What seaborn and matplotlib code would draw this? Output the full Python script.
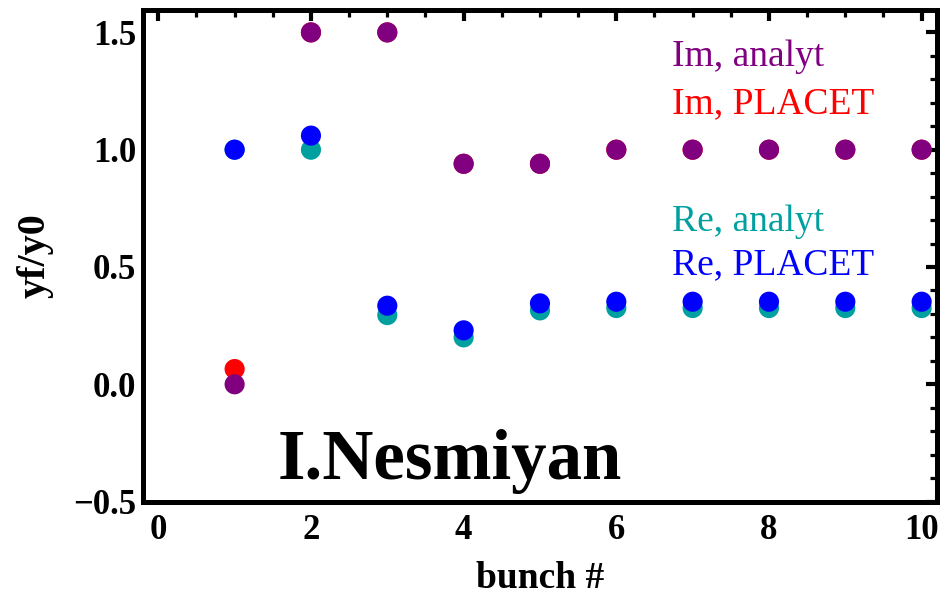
import numpy as np
import pandas as pd
import matplotlib
matplotlib.use("Agg")
import matplotlib.pyplot as plt
import seaborn as sns
from matplotlib.ticker import MultipleLocator, FuncFormatter

bunch = [1, 2, 3, 4, 5, 6, 7, 8, 9, 10]
im_placet = [0.065, 1.5, 1.5, 0.94, 0.94, 1.0, 1.0, 1.0, 1.0, 1.0]
im_analyt = [0.0, 1.5, 1.5, 0.94, 0.94, 1.0, 1.0, 1.0, 1.0, 1.0]
re_analyt = [1.0, 1.0, 0.295, 0.20, 0.315, 0.325, 0.325, 0.325, 0.325, 0.325]
re_placet = [1.0, 1.06, 0.335, 0.23, 0.345, 0.352, 0.352, 0.352, 0.352, 0.352]
series_names = ["Im, PLACET", "Im, analyt", "Re, analyt", "Re, PLACET"]
xlabel = "bunch #"
ylabel = "yf/y0"
watermark = "I.Nesmiyan"

colors = {"Im, analyt": "#800080", "Im, PLACET": "#ff0000",
          "Re, analyt": "#00a0a0", "Re, PLACET": "#0000ff"}

frames = []
for name, vals in zip(series_names, [im_placet, im_analyt, re_analyt, re_placet]):
    frames.append(pd.DataFrame({"bunch": bunch, "val": vals, "series": name}))
df = pd.concat(frames, ignore_index=True)

sns.set_theme(style="white")
plt.rcParams['font.family'] = ['Liberation Serif', 'DejaVu Serif']
plt.rcParams['text.color'] = 'black'
plt.rcParams['axes.labelcolor'] = 'black'
plt.rcParams['xtick.color'] = 'black'
plt.rcParams['ytick.color'] = 'black'

fig = plt.figure(figsize=(9.44, 5.95), dpi=100)
ax = fig.add_axes([0.1515, 0.157, 0.841, 0.826])

sns.scatterplot(data=df, x="bunch", y="val", hue="series", palette=colors,
                s=210, linewidth=0, legend=False, ax=ax, zorder=3)

ax.set_xlim(-0.2, 10.2)
ax.set_ylim(-0.5, 1.595)
ax.xaxis.set_major_locator(MultipleLocator(2))
ax.xaxis.set_minor_locator(MultipleLocator(0.5))
ax.yaxis.set_major_locator(MultipleLocator(0.5))
ax.yaxis.set_minor_locator(MultipleLocator(0.1))
ax.tick_params(which="both", direction="in", top=True, right=True,
               labeltop=False, labelright=False, colors="black")
ax.tick_params(which="major", length=8, width=3, labelsize=25)
ax.tick_params(axis="x", which="major", pad=9)
ax.tick_params(axis="y", which="major", pad=5)
ax.tick_params(which="minor", length=5, width=2.3)
ax.yaxis.set_major_formatter(FuncFormatter(
    lambda v, p: ("\u2212%.1f" % abs(v)) if v < -1e-9 else "%.1f" % abs(v)))
for lab in ax.get_xticklabels() + ax.get_yticklabels():
    lab.set_fontweight("bold")
for sp in ax.spines.values():
    sp.set_linewidth(3.6)
    sp.set_color("black")

ax.set_xlabel(xlabel, fontsize=27, fontweight="bold", labelpad=10)
ax.set_ylabel(ylabel, fontsize=29, fontweight="bold", labelpad=14)

legend_y = [0.886, 0.790, 0.551, 0.463]
for name, yy in zip(["Im, analyt", "Im, PLACET", "Re, analyt", "Re, PLACET"], legend_y):
    ax.text(0.666, yy, name, transform=ax.transAxes, fontsize=27,
            color=colors[name], va="baseline", ha="left")

ax.text(0.170, 0.045, watermark, transform=ax.transAxes, fontsize=51,
        fontweight="bold", color="black", va="baseline", ha="left")

fig.savefig("out.png", dpi=100)
